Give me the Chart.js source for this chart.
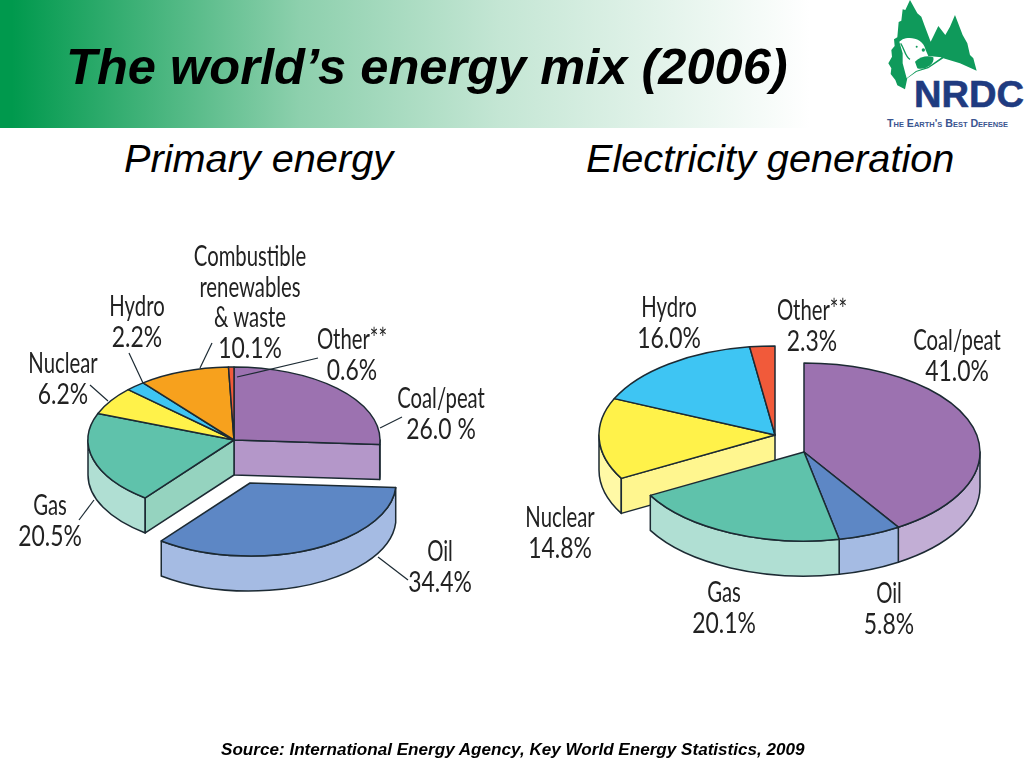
<!DOCTYPE html>
<html>
<head>
<meta charset="utf-8">
<title>The world's energy mix (2006)</title>
<script src="https://cdn.jsdelivr.net/npm/chart.js@4/dist/chart.umd.min.js"></script>
<style>
  html, body { margin: 0; padding: 0; background: #fff; }
  #page { position: relative; width: 1024px; height: 768px; overflow: hidden; font-family: "Liberation Sans", Arial, sans-serif; }
  #band { position: absolute; left: 0; top: 0; width: 1024px; height: 128px;
    background: linear-gradient(90deg, #00994d 0, #00994d 12px, #8dd0ad 300px, #c4e6d4 500px, #ffffff 810px); }
  #title { position: absolute; left: 66px; top: 39px; font-size: 50.6px; line-height: 56px; font-weight: bold; font-style: italic; color: #000; white-space: nowrap; }
  .sub { position: absolute; top: 136px; font-size: 39.7px; line-height: 44px; font-style: italic; color: #000; white-space: nowrap; }
  #source { position: absolute; left: 221px; top: 741px; font-size: 17.1px; line-height: 18px; font-weight: bold; font-style: italic; color: #000; white-space: nowrap; }
  canvas { position: absolute; }
  #leaders, #logo { position: absolute; left: 0; top: 0; }
  .lab { position: absolute; transform: translate(-50%, -50%) scaleX(0.7); font-family: "Lato", "Open Sans", sans-serif; font-weight: 400;
    font-size: 29px; line-height: 29px; color: #222; white-space: nowrap; }
  .lab.pct { transform: translate(-50%, -50%) scaleX(0.79); }
</style>
</head>
<body>
<div id="page">
  <div id="band"></div>
  <div id="title">The world’s energy mix (2006)</div>
  <svg id="logo" width="1024" height="128">
    <g transform="translate(860,0) scale(0.3333)">
      <path fill="#0f9a5b" d="M150 0 L136 30 L128 28 L124 62 L116 66 L112 112 L102 118 L104 138 L94 150 L96 170 L85 190 L94 205 L92 222 L106 240 L112 256 L135 268 L142 235 L170 215 L205 205 L250 175 L300 190 L350 212 L340 175 L330 165 L322 130 L308 105 L285 45 L270 80 L256 105 L235 78 L222 105 L212 125 L195 80 L184 50 L172 40 Z"/>
      <path fill="#fff" d="M118 125 L128 118 C150 108 190 115 197 150 L205 168 L245 172 L205 200 L168 213 L140 235 L128 190 L128 160 Z"/>
      <path fill="#0f9a5b" d="M165 185 C180 170 205 165 220 172 C226 195 190 212 172 205 Z"/>
      <path fill="none" stroke="#0f9a5b" stroke-width="4" d="M122 130 C135 150 135 170 150 178"/>
      <circle cx="170" cy="140" r="3" fill="#0f9a5b"/>
      <circle cx="190" cy="150" r="5" fill="#0f9a5b"/>
    </g>
    <text x="914" y="107" font-family="Liberation Sans" font-weight="bold" font-size="36" fill="#1f3b80" stroke="#1f3b80" stroke-width="0.6" textLength="110" lengthAdjust="spacingAndGlyphs">NRDC</text>
    <text x="887" y="127" font-family="Liberation Sans" font-weight="bold" font-size="10" fill="#3a5590" textLength="121" lengthAdjust="spacingAndGlyphs" style="font-variant: small-caps">The Earth's Best Defense</text>
  </svg>
  <div class="sub" style="left:124px">Primary energy</div>
  <div class="sub" style="left:586px">Electricity generation</div>
  <canvas id="primaryChart" width="468" height="500" style="left:0;top:190px"></canvas>
  <canvas id="electricityChart" width="440" height="500" style="left:584px;top:202px"></canvas>
  <svg id="leaders" width="1024" height="768"></svg>
  <div id="source">Source: International Energy Agency, Key World Energy Statistics, 2009</div>
</div>

<script>
// Chart data
const primaryCategories = ['Coal/peat', 'Oil', 'Gas', 'Nuclear', 'Hydro', 'Combustible', 'Other'];
const primaryValues = [26.0, 34.4, 20.5, 6.2, 2.2, 10.1, 0.6];
const primaryNames = ['Coal/peat', 'Oil', 'Gas', 'Nuclear', 'Hydro', 'Combustible\nrenewables\n& waste', 'Other**'];
const primaryPercents = ['26.0 %', '34.4%', '20.5%', '6.2%', '2.2%', '10.1%', '0.6%'];

const electricityCategories = ['Coal/peat', 'Oil', 'Gas', 'Nuclear', 'Hydro', 'Other'];
const electricityValues = [41.0, 5.8, 20.1, 14.8, 16.0, 2.3];
const electricityNames = ['Coal/peat', 'Oil', 'Gas', 'Nuclear', 'Hydro', 'Other**'];
const electricityPercents = ['41.0%', '5.8%', '20.1%', '14.8%', '16.0%', '2.3%'];

// Slice colours: top, outer wall, cut face
const sliceColors = {
  'Coal/peat': ['#9c72b0', '#c2aed5', '#b497c9'],
  Oil: ['#5d87c5', '#a5bbe3', '#a5bbe3'],
  Gas: ['#5fc2ab', '#b0dfd3', '#95d3bf'],
  Nuclear: ['#fff24a', '#fff9a6', '#fff68f'],
  Hydro: ['#3ec5f3', '#9fe2f9', '#9fe2f9'],
  Combustible: ['#f7a11d', '#fbd08e', '#fbd08e'],
  Other: ['#f15a3a', '#f8ad9d', '#f8ad9d'],
};
const edgeColor = '#1c2a33';

// Draws the pie tilted, with walls, pulling exploded slices away from the apex
const pie3d = {
  id: 'pie3d',
  beforeDatasetsDraw(chart, args, opts) {
    const ctx = chart.ctx;
    const arcs = chart.getDatasetMeta(0).data;
    const cats = chart.data.labels;
    const k = opts.tilt;
    const depth = opts.depth;
    const shiftOf = (i) => opts.shifts[cats[i]] || [0, 0];
    const rows = [...new Set(arcs.map((a, i) => shiftOf(i)[1]))].sort((a, b) => a - b);

    ctx.save();
    ctx.lineWidth = 1.5;
    ctx.lineJoin = 'round';
    ctx.strokeStyle = edgeColor;

    rows.forEach((row) => {
      const members = arcs.map((a, i) => i).filter((i) => shiftOf(i)[1] === row);

      // Outer walls, front half only
      members.forEach((i) => {
        const arc = arcs[i];
        const [sx, sy] = shiftOf(i);
        const x = arc.x + sx;
        const y = arc.y + sy;
        const r = arc.outerRadius;
        const lo = Math.max(arc.startAngle, 0);
        const hi = Math.min(arc.endAngle, Math.PI);
        if (lo < hi) {
          ctx.beginPath();
          ctx.ellipse(x, y, r, r * k, 0, lo, hi);
          ctx.ellipse(x, y + depth, r, r * k, 0, hi, lo, true);
          ctx.closePath();
          ctx.fillStyle = sliceColors[cats[i]][1];
          ctx.fill();
          ctx.stroke();
        }
      });

      // Cut faces, only where the neighbouring slice has been pulled away
      members.forEach((i) => {
        const arc = arcs[i];
        const [sx, sy] = shiftOf(i);
        const x = arc.x + sx;
        const y = arc.y + sy;
        const r = arc.outerRadius;
        [arc.startAngle, arc.endAngle].forEach((a, n) => {
          const c = Math.cos(a);
          if (n === 0 ? c >= 0 : c <= 0) return;
          const next = (i + (n === 0 ? -1 : 1) + arcs.length) % arcs.length;
          if (shiftOf(next)[1] === row) return;
          const px = x + r * c;
          const py = y + r * k * Math.sin(a);
          ctx.beginPath();
          ctx.moveTo(x, y);
          ctx.lineTo(px, py);
          ctx.lineTo(px, py + depth);
          ctx.lineTo(x, y + depth);
          ctx.closePath();
          ctx.fillStyle = sliceColors[cats[i]][2];
          ctx.fill();
          ctx.stroke();
        });
      });

      // Top surfaces
      members.forEach((i) => {
        const arc = arcs[i];
        const [sx, sy] = shiftOf(i);
        const x = arc.x + sx;
        const y = arc.y + sy;
        ctx.save();
        ctx.translate(x, y);
        ctx.scale(1, k);
        ctx.translate(-arc.x, -arc.y);
        arc.draw(ctx);
        ctx.restore();
        ctx.beginPath();
        ctx.moveTo(x, y);
        ctx.ellipse(x, y, arc.outerRadius, arc.outerRadius * k, 0, arc.startAngle, arc.endAngle);
        ctx.closePath();
        ctx.stroke();
      });
    });

    ctx.restore();
    return false;
  },
};

function makePie(id, categories, values, radius, tilt, depth, shifts) {
  return new Chart(document.getElementById(id), {
    type: 'pie',
    data: {
      labels: categories,
      datasets: [{
        data: values,
        radius: radius,
        borderWidth: 0,
        backgroundColor: categories.map((c) => sliceColors[c][0]),
      }],
    },
    options: {
      responsive: false,
      animation: false,
      events: [],
      layout: { padding: 0 },
      plugins: {
        legend: { display: false },
        tooltip: { enabled: false },
        pie3d: { tilt: tilt, depth: depth, shifts: shifts },
      },
    },
    plugins: [pie3d],
  });
}

makePie('primaryChart', primaryCategories, primaryValues, 146, 0.5, 35, { Oil: [16, 43] });
makePie('electricityChart', electricityCategories, electricityValues, 176, 0.506, 35, {
  Nuclear: [-29, -17],
  Hydro: [-29, -17],
  Other: [-29, -17],
});

// Text label placement: centre x, y of the first line
const primaryLabelPos = [[441, 396], [440, 549], [50, 503], [63, 361], [137, 304], [250, 254], [352, 337]];
const electricityLabelPos = [[957, 338], [889, 591], [724, 590], [560, 515], [669, 305], [812, 308]];
const lineGap = 30.5;

function addLabels(names, percents, positions) {
  const page = document.getElementById('page');
  names.forEach((name, i) => {
    const lines = name.split('\n').concat(percents[i]);
    lines.forEach((line, n) => {
      const el = document.createElement('div');
      el.className = n === lines.length - 1 ? 'lab pct' : 'lab';
      el.textContent = line;
      el.style.left = positions[i][0] + 'px';
      el.style.top = positions[i][1] + n * lineGap + 'px';
      page.appendChild(el);
    });
  });
}
addLabels(primaryNames, primaryPercents, primaryLabelPos);
addLabels(electricityNames, electricityPercents, electricityLabelPos);

// Leader lines on the primary energy pie
const leaderLines = [
  [212, 343, 200, 368],
  [129, 353, 143, 383],
  [90, 385, 108, 401],
  [318, 358, 237, 377],
  [402, 417, 380, 428],
  [94, 500, 79, 520],
  [378, 557, 408, 580],
];
const leaders = document.getElementById('leaders');
leaderLines.forEach((l) => {
  const line = document.createElementNS('http://www.w3.org/2000/svg', 'line');
  line.setAttribute('x1', l[0]);
  line.setAttribute('y1', l[1]);
  line.setAttribute('x2', l[2]);
  line.setAttribute('y2', l[3]);
  line.setAttribute('stroke', edgeColor);
  line.setAttribute('stroke-width', 1.2);
  leaders.appendChild(line);
});
</script>
</body>
</html>
